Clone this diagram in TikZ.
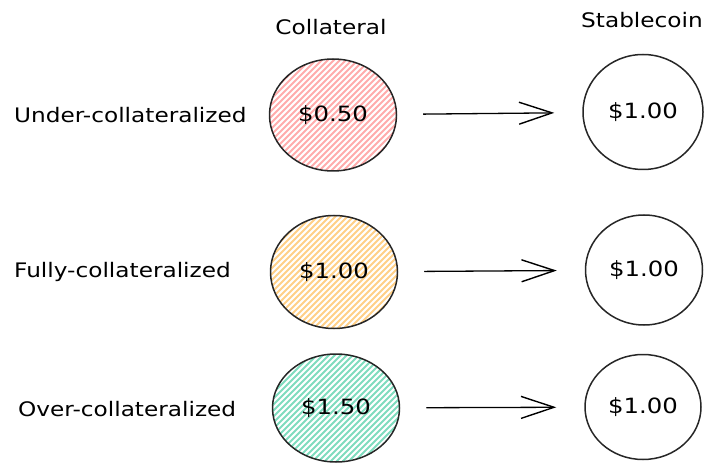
\documentclass[tikz,border=0pt]{standalone}
\usepackage{fontspec}
\setmainfont{DejaVu Sans}[FakeStretch=1.16]
\usetikzlibrary{shapes.geometric,arrows.meta,calc}
\definecolor{hatchred}{HTML}{FFACAC}
\definecolor{hatchyellow}{HTML}{FFD088}
\definecolor{hatchgreen}{HTML}{7FDCBE}
\tikzset{
  coin/.style={ellipse, draw=black!85, line width=1.5pt, inner sep=0pt},
  hatched/.style={path picture={
      \foreach \k in {-26,...,26}
        \draw[#1, line width=2pt]
          ($(path picture bounding box.center)+(\k*6-80,80)$) -- ++(160,-160);
    }},
  amount/.style={font=\fontsize{21}{24}\selectfont},
  rowlabel/.style={anchor=west, font=\fontsize{20}{24}\selectfont, inner sep=0pt},
  header/.style={font=\fontsize{20}{24}\selectfont, inner sep=0pt},
  flow/.style={line width=1.3pt, -{Straight Barb[length=33pt,width=22pt,line width=1.4pt]},
    shorten <=26pt, shorten >=28pt},
}
\begin{document}
\begin{tikzpicture}[x=1pt,y=-1pt]
\useasboundingbox (0,0) rectangle (704,465);

% column headers
\node[header] (hcol) at (331,27) {Collateral};
\node[header] (hst) at (642,20) {Stablecoin};

% row labels
\node[rowlabel] (l1) at (14,115) {Under-collateralized};
\node[rowlabel] (l2) at (14,272) {Fully-collateralized};
\node[rowlabel] (l3) at (18,409) {Over-collateralized};

% collateral coins
\node[coin, hatched=hatchred, minimum width=127pt, minimum height=112pt] (c1) at (333,115) {};
\node[coin, hatched=hatchyellow, minimum width=127pt, minimum height=113pt] (c2) at (334,272) {};
\node[coin, hatched=hatchgreen, minimum width=127pt, minimum height=108pt] (c3) at (336,408) {};
\node[amount] at (c1) {\$0.50};
\node[amount] at (c2) {\$1.00};
\node[amount] at (c3) {\$1.50};

% stablecoins
\node[coin, amount, minimum width=120pt, minimum height=115pt] (s1) at (643,112) {\$1.00};
\node[coin, amount, minimum width=117pt, minimum height=110pt] (s2) at (644,270) {\$1.00};
\node[coin, amount, minimum width=116pt, minimum height=105pt] (s3) at (643,407) {\$1.00};

% minting arrows
\draw[flow] (c1) -- (s1);
\draw[flow] (c2) -- (s2);
\draw[flow] (c3) -- (s3);
\end{tikzpicture}
\end{document}
